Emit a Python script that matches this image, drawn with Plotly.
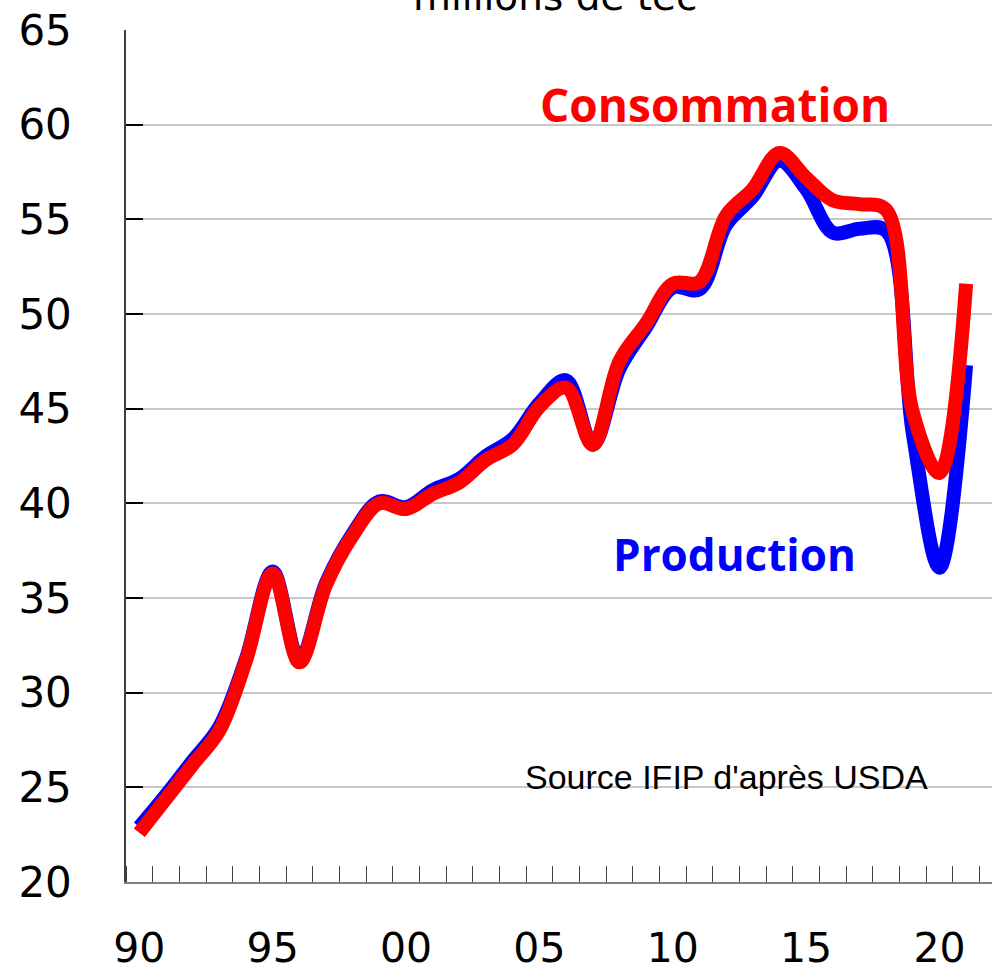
import plotly.graph_objects as go

years = list(range(1990, 2022))
production = [22.9, 24.6, 26.4, 28.2, 31.8, 36.4, 31.7, 35.8, 38.4, 40.1,
              39.8, 40.7, 41.3, 42.5, 43.4, 45.3, 46.5, 43.1, 47.1, 49.3,
              51.4, 51.3, 54.7, 56.2, 58.1, 56.6, 54.3, 54.5, 54.4, 43.7,
              36.6, 47.3]
consommation = [22.6, 24.4, 26.2, 28.0, 31.7, 36.3, 31.6, 35.7, 38.3, 40.0,
                39.7, 40.5, 41.1, 42.3, 43.1, 45.1, 46.1, 43.1, 47.5, 49.5,
                51.6, 51.7, 55.2, 56.6, 58.5, 57.2, 56.0, 55.8, 55.5, 44.8,
                41.6, 51.6]
xtick_vals = [1990, 1995, 2000, 2005, 2010, 2015, 2020]
xtick_text = ["90", "95", "00", "05", "10", "15", "20"]
ytick_vals = [20, 25, 30, 35, 40, 45, 50, 55, 60, 65]

fig = go.Figure()
fig.add_trace(go.Scatter(x=years, y=production, mode="lines", name="Production",
                         line=dict(color="#0000FF", width=14, shape="spline", smoothing=1.0)))
fig.add_trace(go.Scatter(x=years, y=consommation, mode="lines", name="Consommation",
                         line=dict(color="#FF0000", width=14, shape="spline", smoothing=1.0)))

fig.update_layout(
    width=992, height=971,
    margin=dict(l=126, r=0, t=30, b=89),
    plot_bgcolor="white", paper_bgcolor="white",
    showlegend=False,
    font=dict(family="DejaVu Sans", size=42, color="black"),
)
fig.update_xaxes(
    automargin=False,
    range=[1989.5, 2021.97],
    tickvals=xtick_vals, ticktext=xtick_text, ticks="",
    ticklabelstandoff=29,
    showgrid=False, zeroline=False,
    showline=True, linecolor="#808080", linewidth=2,
    minor=dict(tick0=1989.5, dtick=1, ticks="inside", ticklen=16,
               tickcolor="#404040", tickwidth=1, showgrid=False),
    tickfont=dict(family="DejaVu Sans", size=41, color="black"),
)
fig.update_yaxes(
    automargin=False,
    range=[20, 65],
    tickvals=ytick_vals, ticks="inside", ticklen=17, tickcolor="black", tickwidth=2,
    ticklabelstandoff=44,
    showgrid=True, gridcolor="#c8c8c8", gridwidth=1.5,
    zeroline=False,
    showline=True, linecolor="#404040", linewidth=1.5,
    tickfont=dict(family="DejaVu Sans", size=42, color="black"),
)

fig.add_annotation(x=2011.57, y=61.07, xref="x", yref="y", text="<b>Consommation</b>",
                   showarrow=False, font=dict(family="Open Sans", size=46, color="#FF0000"))
fig.add_annotation(x=2012.3, y=37.32, xref="x", yref="y", text="<b>Production</b>",
                   showarrow=False, font=dict(family="Open Sans", size=44, color="#0000FF"))
fig.add_annotation(x=2012.02, y=25.57, xref="x", yref="y", text="Source IFIP d'après USDA",
                   showarrow=False, font=dict(family="Liberation Sans", size=34, color="black"))
fig.add_annotation(x=(555 - 126) / 866, y=(852.5 + 34) / 852.5, xref="paper", yref="paper",
                   text="millions de tec", showarrow=False, yanchor="middle",
                   font=dict(family="DejaVu Sans", size=39, color="black"))

fig.write_html("out.html", config={"displayModeBar": False},
               post_script="document.body.style.margin='0';document.body.style.overflow='hidden';")
